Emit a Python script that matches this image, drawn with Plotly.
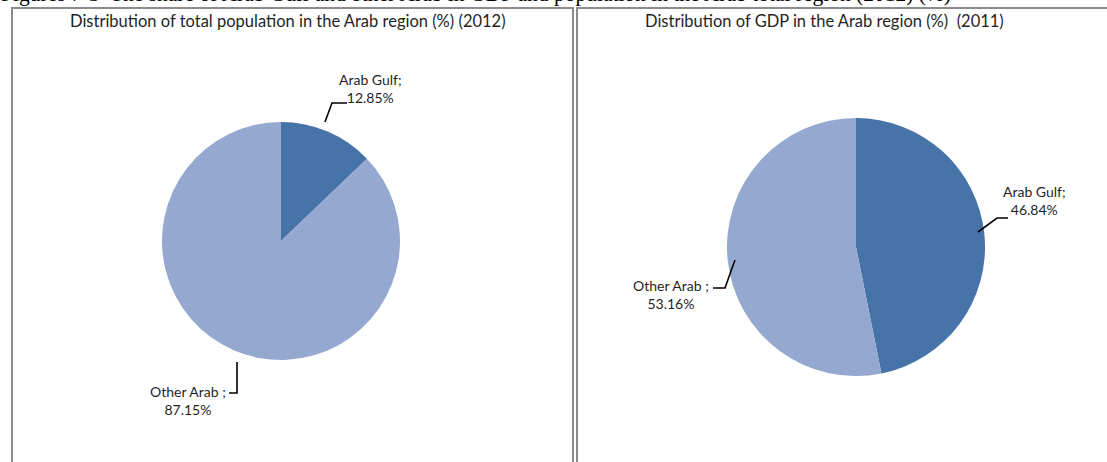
import plotly.graph_objects as go

# ---- data ----
categories = ["Arab Gulf", "Other Arab"]
population_2012 = [12.85, 87.15]
gdp_2011 = [46.84, 53.16]
chart_titles = ["Distribution of total population in the Arab region (%) (2012)",
                "Distribution of GDP in the Arab region (%)  (2011)"]
caption = ("Figures 7-3  The share of Arab Gulf and other Arab in GDP and population "
           "in the Arab total region (2012) (%)")

W, H = 1107, 462
colors = ["#4673A8", "#95A9D0"]
FONT = "Lato"
TXT = "#1f1f1f"


def px(x):
    return x / W


def py(y):
    return 1 - y / H


def dom(cx, cy, r):
    return dict(x=[px(cx - r), px(cx + r)], y=[py(cy + r), py(cy - r)])


fig = go.Figure()
fig.add_trace(go.Pie(labels=categories, values=population_2012, sort=False,
                     direction="clockwise", rotation=0, textinfo="none",
                     marker=dict(colors=colors), domain=dom(281, 241, 119),
                     showlegend=False, hoverinfo="label+percent"))
fig.add_trace(go.Pie(labels=categories, values=gdp_2011, sort=False,
                     direction="clockwise", rotation=0, textinfo="none",
                     marker=dict(colors=colors), domain=dom(856, 247, 129),
                     showlegend=False, hoverinfo="label+percent"))

ann = []
# caption (partly clipped at top, as in reference)
ann.append(dict(text=caption, x=px(-1), y=py(-6), xref="paper", yref="paper",
                xanchor="left", yanchor="middle", showarrow=False,
                font=dict(family="Liberation Serif", size=21.5, color="#000")))
ann.append(dict(text=chart_titles[0], x=px(288), y=py(21), xref="paper", yref="paper",
                xanchor="center", yanchor="middle", showarrow=False,
                font=dict(family=FONT, size=16.5, color=TXT)))
ann.append(dict(text=chart_titles[1], x=px(825), y=py(21), xref="paper", yref="paper",
                xanchor="center", yanchor="middle", showarrow=False,
                font=dict(family=FONT, size=16.5, color=TXT)))


def label(text, x, y, anchor="center"):
    ann.append(dict(text=text, x=px(x), y=py(y), xref="paper", yref="paper",
                    xanchor=anchor, yanchor="middle", showarrow=False, align="center",
                    font=dict(family=FONT, size=14, color=TXT)))


label(f"{categories[0]};<br>{population_2012[0]:.2f}%", 370, 88)
label(f"{categories[1]} ;<br>{population_2012[1]:.2f}%", 188, 400)
label(f"{categories[0]};<br>{gdp_2011[0]:.2f}%", 1034, 200)
label(f"{categories[1]} ;<br>{gdp_2011[1]:.2f}%", 671, 294)

shapes = []


def path(points, color="#000", width=1.6):
    d = "M " + " L ".join(f"{px(a)},{py(b)}" for a, b in points)
    shapes.append(dict(type="path", path=d, xref="paper", yref="paper",
                       line=dict(color=color, width=width)))


# leader lines
path([(325, 122), (332, 103), (347, 103)])
path([(237, 362), (237, 393), (229, 393)])
path([(978, 232), (997, 218), (1008, 218)])
path([(735, 260), (725, 288), (713, 288)])

# panel borders
G = "#8c8c8c"
path([(12, 470), (12, 8), (573, 8), (573, 470)], G, 2)
path([(577, 470), (577, 8), (1110, 8)], G, 2)

fig.update_layout(width=W, height=H, margin=dict(l=0, r=0, t=0, b=0),
                  paper_bgcolor="white", plot_bgcolor="white",
                  annotations=ann, shapes=shapes)
fig.write_html("out.html", config={"displayModeBar": False},
               post_script="document.body.style.margin='0px';document.body.style.overflow='hidden';")
